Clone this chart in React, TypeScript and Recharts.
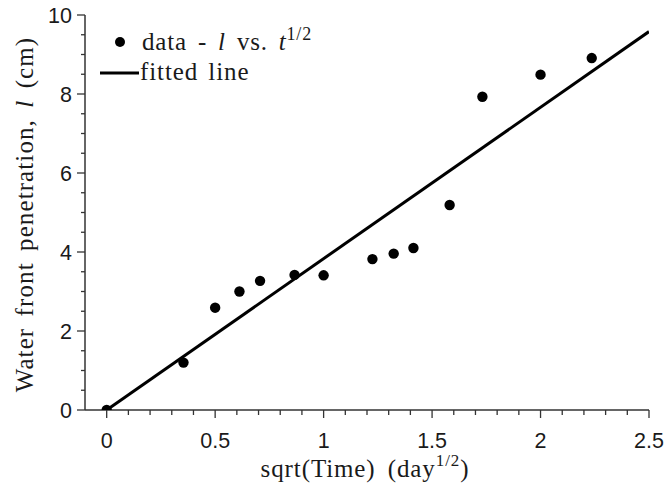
import React from 'react';
import { ScatterChart, Scatter, XAxis, YAxis, Legend, Label } from 'recharts';

// sqrt(Time) in day^(1/2)
const sqrtTime = [0, 0.354, 0.5, 0.612, 0.707, 0.866, 1.0, 1.225, 1.323, 1.414, 1.581, 1.732, 2.0, 2.236];
// water front penetration l (cm)
const penetration = [0, 1.2, 2.59, 3.0, 3.27, 3.42, 3.41, 3.82, 3.96, 4.1, 5.19, 7.93, 8.49, 8.91];
// fitted line end points
const fitX = [0, 2.5];
const fitY = [0, 9.58];

const xTicks = [0, 0.1, 0.2, 0.3, 0.4, 0.5, 0.6, 0.7, 0.8, 0.9, 1, 1.1, 1.2, 1.3, 1.4, 1.5, 1.6, 1.7, 1.8, 1.9, 2, 2.1, 2.2, 2.3, 2.4, 2.5];
const yTicks = [0, 0.5, 1, 1.5, 2, 2.5, 3, 3.5, 4, 4.5, 5, 5.5, 6, 6.5, 7, 7.5, 8, 8.5, 9, 9.5, 10];

const pointData = sqrtTime.map((x, i) => ({ x, y: penetration[i] }));
const fitData = fitX.map((x, i) => ({ x, y: fitY[i] }));

const SERIF = "Liberation Serif";
const SANS = "Liberation Sans";
const AXIS = '#333';
const TEXT = '#1a1a1a';

const isMajor = (v: number, step: number) => Math.abs(v / step - Math.round(v / step)) < 1e-6;

const XTick = (props: any) => {
  const { x, y, payload } = props;
  const v = payload.value as number;
  const major = isMajor(v, 0.5);
  return (
    <g>
      <line x1={x} x2={x} y1={y} y2={y + (major ? 8 : 5)} stroke={AXIS} strokeWidth={1.3} />
      {major && (
        <text x={x} y={y + 38} textAnchor="middle" fontFamily={SANS} fontSize={21.5} fill={TEXT}>
          {String(v)}
        </text>
      )}
    </g>
  );
};

const YTick = (props: any) => {
  const { x, y, payload } = props;
  const v = payload.value as number;
  const major = isMajor(v, 2);
  return (
    <g>
      <line x1={x - (major ? 8 : 4)} x2={x} y1={y} y2={y} stroke={AXIS} strokeWidth={1.3} />
      {major && (
        <text x={x - 13} y={y + 8} textAnchor="end" fontFamily={SANS} fontSize={21.5} fill={TEXT}>
          {String(v)}
        </text>
      )}
    </g>
  );
};

const XLabel = (props: any) => {
  const { viewBox } = props;
  const cx = viewBox.x + viewBox.width / 2 - 2;
  return (
    <text x={cx} y={viewBox.y + 67} textAnchor="middle" fontFamily={SERIF} fontSize={25} fill={TEXT} letterSpacing={0.9} wordSpacing={5}>
      sqrt(Time) (day
      <tspan fontSize={17} dy={-11}>1/2</tspan>
      <tspan dy={11}>)</tspan>
    </text>
  );
};

const YLabel = (props: any) => {
  const { viewBox } = props;
  const cy = viewBox.y + viewBox.height / 2 + 2;
  const cx = 24;
  return (
    <text
      x={cx}
      y={cy}
      transform={`rotate(-90 ${cx} ${cy})`}
      textAnchor="middle"
      dominantBaseline="central"
      fontFamily={SERIF}
      fontSize={25}
      fill={TEXT}
      letterSpacing={1.1}
      wordSpacing={4}
    >
      Water front penetration, <tspan fontStyle="italic">l</tspan> (cm)
    </text>
  );
};

const LegendBox = () => (
  <svg width={260} height={70} style={{ display: 'block' }}>
    <circle cx={25} cy={20} r={5} fill="#000" />
    <text x={47} y={28} fontFamily={SERIF} fontSize={25} fill={TEXT} letterSpacing={0.8} wordSpacing={4}>
      data - <tspan fontStyle="italic">l</tspan> vs. <tspan fontStyle="italic">t</tspan>
      <tspan fontSize={18} dy={-10}>1/2</tspan>
    </text>
    <line x1={5} x2={44} y1={51} y2={51} stroke="#000" strokeWidth={3} />
    <text x={45} y={58} fontFamily={SERIF} fontSize={25} fill={TEXT} letterSpacing={0.9} wordSpacing={3}>
      fitted line
    </text>
  </svg>
);

const Dot = (props: any) => {
  const { cx, cy } = props;
  return <circle cx={cx} cy={cy} r={5.2} fill="#000" />;
};

export default function App() {
  return (
    <div style={{ position: 'absolute', left: 0, top: 0, background: '#fff' }}>
      <ScatterChart width={665} height={488} margin={{ top: 15, right: 16, bottom: 28, left: 25 }}>
        <XAxis
          type="number"
          dataKey="x"
          domain={[-0.1, 2.5]}
          ticks={xTicks}
          interval={0}
          allowDataOverflow
          tickSize={0}
          tickMargin={0}
          tickLine={false}
          tick={<XTick />}
          height={50}
          axisLine={{ stroke: AXIS, strokeWidth: 1.5 }}
        >
          <Label content={<XLabel />} />
        </XAxis>
        <YAxis
          type="number"
          dataKey="y"
          domain={[0, 10]}
          ticks={yTicks}
          interval={0}
          allowDataOverflow
          tickSize={0}
          tickMargin={0}
          tickLine={false}
          tick={<YTick />}
          width={60}
          axisLine={{ stroke: AXIS, strokeWidth: 1.5 }}
        >
          <Label content={<YLabel />} />
        </YAxis>
        <Legend
          layout="horizontal"
          verticalAlign="middle"
          align="center"
          wrapperStyle={{ top: 22, left: 95, width: 260 }}
          content={() => <LegendBox />}
        />
        <Scatter
          data={fitData}
          line={{ stroke: '#000', strokeWidth: 3 }}
          shape={() => <g />}
          isAnimationActive={false}
          legendType="none"
        />
        <Scatter data={pointData} fill="#000" shape={<Dot />} isAnimationActive={false} />
      </ScatterChart>
    </div>
  );
}
